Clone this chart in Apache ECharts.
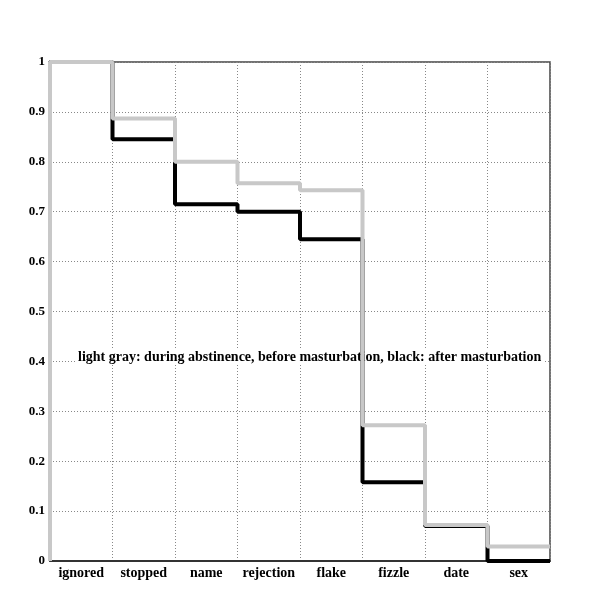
<!DOCTYPE html>
<html>
<head>
<meta charset="utf-8">
<script src="https://cdn.jsdelivr.net/npm/echarts@6/dist/echarts.min.js"></script>
<style>
html, body { margin: 0; padding: 0; background: #fff; }
#main { width: 612px; height: 612px; }
</style>
</head>
<body>
<div id="main"></div>
<script>
// stages
var categories = ['ignored', 'stopped', 'name', 'rejection', 'flake', 'fizzle', 'date', 'sex'];
// light gray: during abstinence, before masturbation
var grayValues = [1, 0.887, 0.800, 0.757, 0.743, 0.272, 0.072, 0.029];
// black: after masturbation
var blackValues = [1, 0.845, 0.715, 0.700, 0.645, 0.158, 0.070, 0];
var yTicks = [0, 0.1, 0.2, 0.3, 0.4, 0.5, 0.6, 0.7, 0.8, 0.9, 1];
var noteText = 'light gray: during abstinence, before masturbation, black: after masturbation';

var FONT = '"Liberation Serif", "DejaVu Serif", serif';

// each stage holds its value over its whole band, then steps at the band edge
function stepData(vals) {
    var out = [[0, 0]];
    vals.forEach(function (v, i) { out.push([i, v]); });
    out.push([vals.length, vals[vals.length - 1]]);
    return out;
}

var chart = echarts.init(document.getElementById('main'));

var option = {
    backgroundColor: '#fff',
    animation: false,
    grid: {
        left: 50, right: 62, top: 62, bottom: 51,
        show: true, borderColor: '#444', borderWidth: 1.5, backgroundColor: 'transparent'
    },
    xAxis: [{
        type: 'value', min: 0, max: categories.length, interval: 1,
        position: 'bottom',
        axisLine: { show: true, onZero: false, lineStyle: { color: '#333', width: 2 } },
        axisTick: { show: false },
        axisLabel: { show: false },
        splitLine: { show: true, lineStyle: { color: '#888', type: [1, 2], width: 1 } }
    }, {
        type: 'category', data: categories, boundaryGap: true,
        position: 'bottom',
        axisLine: { show: false },
        axisTick: { show: false },
        splitLine: { show: false },
        axisLabel: {
            margin: 5, color: '#000', fontFamily: FONT, fontWeight: 'bold', fontSize: 14,
            interval: 0
        }
    }],
    yAxis: {
        type: 'value', min: 0, max: 1, interval: 0.1,
        axisLine: { show: true, lineStyle: { color: '#333', width: 1.5 } },
        axisTick: { show: false },
        axisLabel: {
            margin: 5, color: '#000', fontFamily: FONT, fontWeight: 'bold', fontSize: 13,
            formatter: function (v) {
                var t = yTicks.find(function (k) { return Math.abs(k - v) < 1e-6; });
                return t === undefined ? '' : String(t);
            }
        },
        splitLine: { show: true, lineStyle: { color: '#888', type: [1, 2], width: 1 } }
    },
    graphic: [{
        type: 'text', z: 1,
        left: 76, top: 349,
        style: {
            text: noteText,
            font: 'bold 14px ' + FONT,
            fill: '#000',
            backgroundColor: '#fff',
            padding: [1, 2]
        }
    }],
    series: [{
        name: 'black', type: 'line', step: 'end', z: 3,
        data: stepData(blackValues),
        symbol: 'none',
        lineStyle: { color: '#000', width: 4 }
    }, {
        name: 'gray', type: 'line', step: 'end', z: 4,
        data: stepData(grayValues),
        symbol: 'none',
        lineStyle: { color: '#c8c8c8', width: 4 }
    }]
};

chart.setOption(option);
</script>
</body>
</html>
